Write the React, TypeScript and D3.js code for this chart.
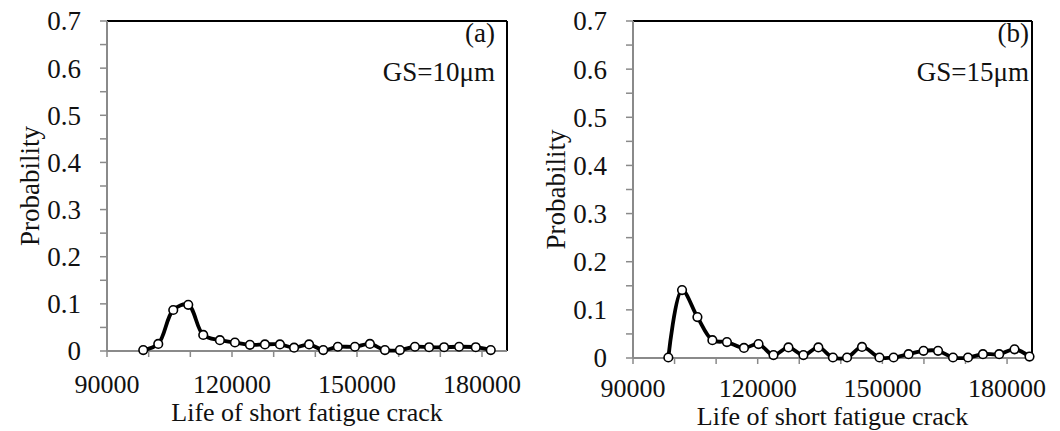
import React from "react";
import * as d3 from "d3";

const lifeA = [98700, 102300, 105900, 109500, 113100, 117100, 120700, 124300, 127900, 131500, 134900, 138500, 141900, 145400, 149500, 153100, 156700, 160300, 163900, 167300, 170900, 174500, 178500, 182100];
const probA = [0.002, 0.015, 0.087, 0.098, 0.034, 0.023, 0.018, 0.013, 0.014, 0.014, 0.007, 0.014, 0.002, 0.009, 0.009, 0.015, 0.002, 0.002, 0.009, 0.008, 0.008, 0.009, 0.008, 0.002];

const lifeB = [98500, 101800, 105500, 109100, 112600, 116700, 120200, 123800, 127400, 131000, 134600, 138100, 141500, 145100, 149300, 152700, 156300, 159900, 163400, 167000, 170600, 174200, 178100, 181800, 185400];
const probB = [0.001, 0.141, 0.085, 0.037, 0.033, 0.021, 0.029, 0.006, 0.022, 0.006, 0.022, 0.001, 0.001, 0.023, 0.001, 0.001, 0.008, 0.015, 0.015, 0.001, 0.001, 0.008, 0.008, 0.018, 0.003];

const xTicks = [90000, 120000, 150000, 180000];
const xMinorTicks = [90000, 100000, 110000, 120000, 130000, 140000, 150000, 160000, 170000, 180000];
const yTicks = [0, 0.1, 0.2, 0.3, 0.4, 0.5, 0.6, 0.7];
const yMinorTicks = [0, 0.05, 0.1, 0.15, 0.2, 0.25, 0.3, 0.35, 0.4, 0.45, 0.5, 0.55, 0.6, 0.65, 0.7];

const FONT = "'Liberation Serif', 'Times New Roman', serif";

type PanelProps = {
  x0: number; x1: number; yTop: number; yBottom: number;
  life: number[]; prob: number[]; tag: string; gs: string; textRight: number;
  tickOffset: number; titleY: number;
};

function Panel({ x0, x1, yTop, yBottom, life, prob, tag, gs, textRight, tickOffset, titleY }: PanelProps) {
  const x = d3.scaleLinear().domain([90000, 186000]).range([x0, x1]);
  const y = d3.scaleLinear().domain([0, 0.7]).range([yBottom, yTop]);
  const pts = life.map((v, i) => [v, prob[i]] as [number, number]);
  const line = d3.line<[number, number]>()
    .x(d => x(d[0]))
    .y(d => y(d[1]))
    .curve(d3.curveCatmullRom.alpha(0.5));
  const gray = "#8a8a8a";
  return (
    <g fontFamily={FONT} fill="#111">
      <line x1={x0} x2={x1} y1={yTop} y2={yTop} stroke="#000" strokeWidth={2} />
      <line x1={x1} x2={x1} y1={yTop} y2={yBottom} stroke="#000" strokeWidth={2} />
      <line x1={x0} x2={x0} y1={yTop} y2={yBottom} stroke={gray} strokeWidth={2} />
      {yMinorTicks.map(t => (
        <line key={"ym" + t} x1={x0 - 7} x2={x0} y1={y(t)} y2={y(t)} stroke={gray} strokeWidth={1.5} />
      ))}
      {yTicks.map(t => (
        <text key={"yt" + t} x={x0 - 26} y={y(t)} dy="0.35em" textAnchor="end" fontSize={27}>
          {t === 0 ? "0" : d3.format(".1f")(t)}
        </text>
      ))}
      <line x1={x0} x2={x1} y1={yBottom} y2={yBottom} stroke={gray} strokeWidth={2} />
      {xMinorTicks.map(t => (
        <line key={"xm" + t} x1={x(t)} x2={x(t)} y1={yBottom} y2={yBottom + 6} stroke={gray} strokeWidth={1.5} />
      ))}
      {xTicks.map(t => (
        <text key={"xt" + t} x={x(t)} y={yBottom + tickOffset} textAnchor="middle" fontSize={26}>
          {String(t)}
        </text>
      ))}
      <text x={(x0 + x1) / 2} y={titleY} textAnchor="middle" fontSize={26}>Life of short fatigue crack</text>
      <text transform={`translate(${x0 - 68},${(yTop + yBottom) / 2}) rotate(-90)`} textAnchor="middle" fontSize={27}>Probability</text>
      <text x={textRight} y={42} textAnchor="end" fontSize={27}>{tag}</text>
      <text x={textRight} y={81} textAnchor="end" fontSize={27}>{gs}</text>
      <path d={line(pts) || ""} fill="none" stroke="#000" strokeWidth={3.8} strokeLinejoin="round" />
      {pts.map((d, i) => (
        <circle key={i} cx={x(d[0])} cy={y(d[1])} r={4.3} fill="#fff" stroke="#000" strokeWidth={1.6} />
      ))}
    </g>
  );
}

export default function App() {
  return (
    <svg width={1060} height={431} style={{ position: "absolute", left: 0, top: 0, background: "#fff" }}>
      <rect width={1060} height={431} fill="#fff" />
      <Panel x0={107} x1={507} yTop={21} yBottom={351} life={lifeA} prob={probA} tag="(a)" gs="GS=10μm" textRight={495} tickOffset={42} titleY={421} />
      <Panel x0={633} x1={1032} yTop={21} yBottom={358} life={lifeB} prob={probB} tag="(b)" gs="GS=15μm" textRight={1029} tickOffset={39} titleY={425} />
    </svg>
  );
}
